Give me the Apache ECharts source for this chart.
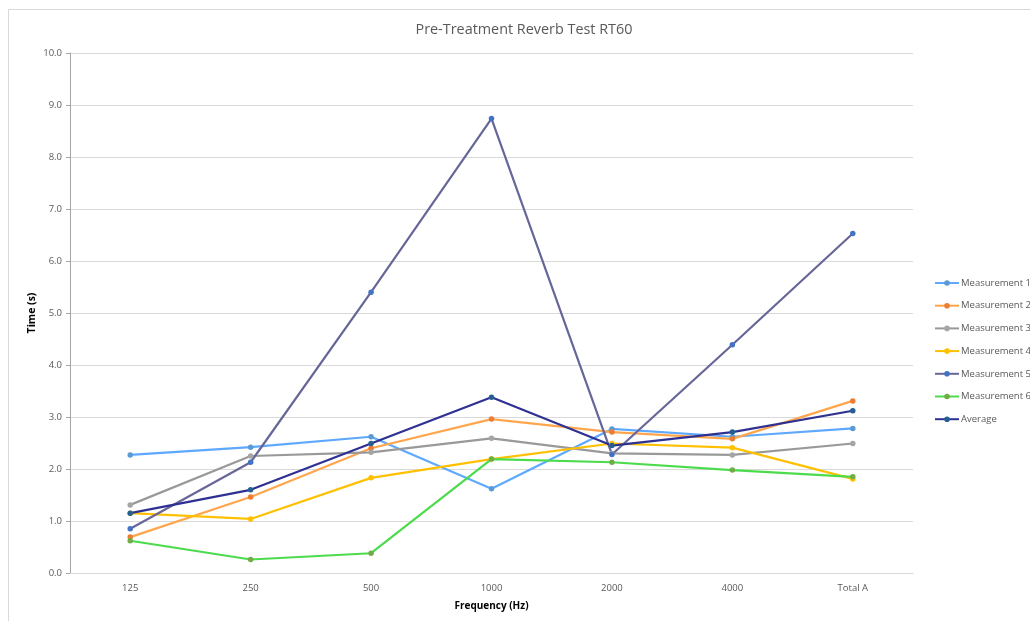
<!DOCTYPE html>
<html><head><meta charset="utf-8">
<script src="https://cdn.jsdelivr.net/npm/echarts@6/dist/echarts.min.js"></script>
<style>html,body{margin:0;padding:0;background:#fff}#c{width:1030px;height:621px}</style>
</head><body><div id="c"></div>
<script>
const categories = ['125','250','500','1000','2000','4000','Total A'];
const m1 = [2.27, 2.42, 2.62, 1.62, 2.77, 2.62, 2.78];
const m2 = [0.69, 1.46, 2.40, 2.96, 2.71, 2.58, 3.31];
const m3 = [1.31, 2.25, 2.32, 2.59, 2.30, 2.27, 2.49];
const m4 = [1.15, 1.04, 1.83, 2.19, 2.49, 2.41, 1.81];
const m5 = [0.85, 2.13, 5.40, 8.74, 2.28, 4.39, 6.53];
const m6 = [0.62, 0.26, 0.38, 2.19, 2.13, 1.98, 1.85];
const avg = [1.15, 1.60, 2.49, 3.38, 2.45, 2.71, 3.12];
const seriesNames = ['Measurement 1','Measurement 2','Measurement 3','Measurement 4','Measurement 5','Measurement 6','Average'];
const seriesData = [m1, m2, m3, m4, m5, m6, avg];
const lineColors = ['#5EA9FF','#FFA64D','#999999','#FFC000','#666699','#4CDB4C','#2E3192'];
const markerColors = ['#5B9BD5','#ED7D31','#A5A5A5','#FFC000','#4472C4','#70AD47','#255E91'];
const yAxisTitle = 'Time (s)';

const FONT = 'Open Sans';
const chart = echarts.init(document.getElementById('c'), null, {renderer:'canvas'});
chart.setOption({
  animation:false,
  backgroundColor:'#fff',
  graphic:[
    {type:'rect', shape:{x:8.5,y:9.5,width:1100,height:700}, style:{fill:'none',stroke:'#D9D9D9',lineWidth:1}, silent:true, z:-1},
    {type:'text', x:32, y:313, rotation:Math.PI/2, silent:true,
      style:{text:yAxisTitle, fontFamily:FONT, fontSize:10.5, fontWeight:'bold', fill:'#000', align:'center', verticalAlign:'middle'}}
  ],
  title:{text:'Pre-Treatment Reverb Test RT60', left:519, top:18, textAlign:'center',
    textStyle:{fontFamily:FONT, fontSize:14.4, fontWeight:'normal', color:'#595959'}},
  grid:{left:70, right:117, top:53, bottom:48, containLabel:false},
  legend:{orient:'vertical', left:929, top:273, itemGap:12.7, itemWidth:24, itemHeight:7,
    data:seriesNames, textStyle:{fontFamily:FONT, fontSize:9.5, color:'#595959', padding:[0,0,0,-3]}},
  xAxis:{type:'category', data:categories, boundaryGap:true,
    name:'Frequency (Hz)', nameLocation:'middle', nameGap:28,
    nameTextStyle:{fontFamily:FONT, fontSize:10, fontWeight:'bold', color:'#000'},
    axisLine:{lineStyle:{color:'#D9D9D9'}}, axisTick:{show:false},
    axisLabel:{fontFamily:FONT, fontSize:9.5, color:'#595959', margin:10}},
  yAxis:{type:'value', min:0, max:10, interval:1,
    axisLine:{show:true, lineStyle:{color:'#A6A6A6'}},
    axisTick:{show:true, length:4, lineStyle:{color:'#A6A6A6'}},
    splitLine:{lineStyle:{color:'#D9D9D9'}},
    axisLabel:{fontFamily:FONT, fontSize:9.5, color:'#595959', margin:8, formatter:v=>v.toFixed(1)}},
  series: seriesNames.map((n,i)=>({
    name:n, type:'line', data:seriesData[i], symbol:'circle', symbolSize:5.5,
    lineStyle:{color:lineColors[i], width:2.2},
    itemStyle:{color:markerColors[i]}, color:lineColors[i]
  }))
});
</script></body></html>
